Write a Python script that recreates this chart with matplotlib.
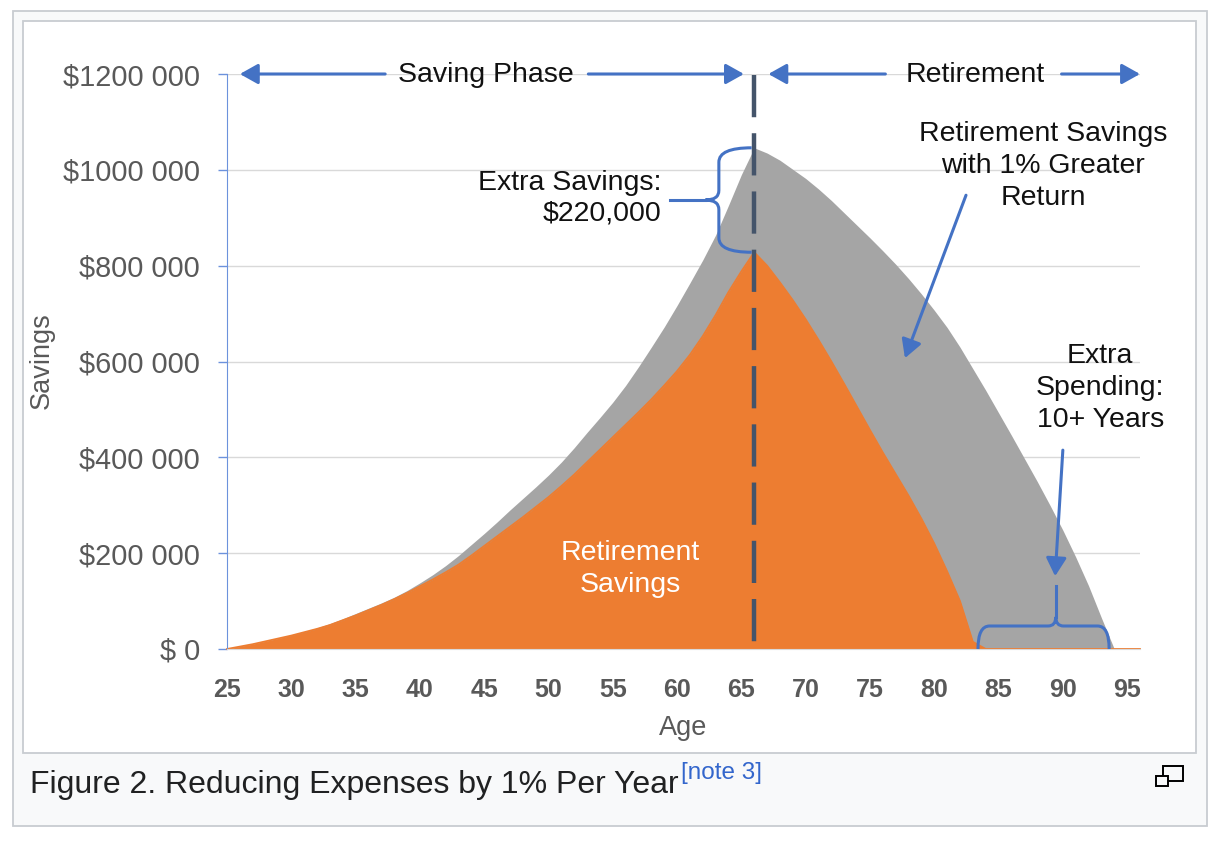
import matplotlib
matplotlib.use('Agg')
import matplotlib.pyplot as plt
from matplotlib.patches import Rectangle, PathPatch
from matplotlib.path import Path
from matplotlib.ticker import FuncFormatter

plt.rcParams['font.family'] = ['Liberation Sans', 'DejaVu Sans']

# data, thousands of dollars per age
ages = list(range(25, 97))
savings_k = [0, 5, 10, 16, 22, 28, 35, 42, 50, 60,
             70, 81, 92, 104, 117, 131, 145, 160, 176, 195,
             215, 235, 255, 275, 296, 317, 340, 364, 390, 416,
             442, 468, 494, 521, 550, 580, 614, 653, 697, 745,
             788, 828, 800, 765, 728, 688, 645, 600, 553, 505,
             457, 410, 365, 320, 272, 220, 162, 100, 15, 0,
             0, 0, 0, 0, 0, 0, 0, 0, 0, 0, 0, 0]
greater_return_k = [0, 5, 10, 16, 22, 29, 36, 44, 53, 63,
                    74, 85, 96, 108, 122, 138, 155, 174, 195, 218,
                    241, 265, 290, 314, 338, 363, 390, 420, 452, 483,
                    515, 550, 589, 630, 672, 717, 764, 812, 864, 926,
                    990, 1046, 1035, 1020, 1001, 982, 960, 936, 910, 884,
                    858, 831, 803, 773, 741, 707, 671, 630, 585, 540,
                    493, 446, 398, 350, 300, 248, 192, 132, 65, 0,
                    0, 0]
retire_age = 66
age_ticks = list(range(25, 96, 5))
savings_ticks = [0, 200000, 400000, 600000, 800000, 1000000, 1200000]

savings = [v * 1000 for v in savings_k]
greater = [v * 1000 for v in greater_return_k]

ORANGE = '#ed7d31'
GREY = '#a5a5a5'
BLUE = '#4472c4'
TXT = '#111111'
AXTXT = '#595959'

W, H = 1218, 841


def fx(px):
    return px / W


def fy(py):
    return 1 - py / H


fig = plt.figure(figsize=(W / 100, H / 100), dpi=100)

# wiki thumbnail frame
fig.add_artist(Rectangle((fx(12.5), fy(825.5)), 1194 / W, 815 / H, fc='#f8f9fa',
                         ec='#c8ccd1', lw=1.3, zorder=-3))
fig.add_artist(Rectangle((fx(22.5), fy(752.5)), 1173 / W, 732 / H, fc='white',
                         ec='#c8ccd1', lw=1.3, zorder=-2))

ax = fig.add_axes([fx(227), fy(649), (1140 - 227) / W, (649 - 74) / H])
ax.patch.set_alpha(0)
ax.set_xlim(25, 96)
ax.set_ylim(0, 1200000)

# areas
ax.fill_between(ages, greater, color=GREY, lw=0, zorder=1)
ax.fill_between(ages, savings, color=ORANGE, lw=0, zorder=2)
ax.plot(ages, savings, color=ORANGE, lw=1.3, zorder=2.5, clip_on=False)

# retirement age marker
ax.plot([retire_age, retire_age], [1198000, 0], color='#44546a', lw=3.2,
        dashes=(9.5, 3.6), zorder=4)

# axes styling
ax.set_axisbelow(True)
ax.yaxis.grid(True, color='#d9d9d9', lw=1)
ax.set_yticks(savings_ticks)
ax.yaxis.set_major_formatter(FuncFormatter(lambda v, _: '$ 0' if v == 0 else f'${int(v / 1000)} 000'))
ax.set_xticks(age_ticks)
ax.tick_params(axis='y', length=6.5, width=1, color='#6c92dc', pad=13,
               labelsize=20.8, labelcolor=AXTXT)
ax.tick_params(axis='x', length=0, pad=21, labelsize=18, labelcolor=AXTXT)
for lbl in ax.get_xticklabels():
    lbl.set_fontweight('bold')
for s in ['top', 'right']:
    ax.spines[s].set_visible(False)
ax.spines['left'].set_color('#6c92dc')
ax.spines['bottom'].set_color('#d9d9d9')

fig.text(fx(683), fy(728), 'Age', ha='center', va='center', fontsize=19.5, color=AXTXT)
fig.text(fx(42), fy(361), 'Savings', ha='center', va='center', rotation=90,
         fontsize=19.5, color=AXTXT)


def arrow(x0, x1, y):
    ax.annotate('', xy=(x1, y), xytext=(x0, y), annotation_clip=False,
                arrowprops=dict(arrowstyle='-|>,head_length=0.5,head_width=0.28',
                                color=BLUE, lw=2.2, mutation_scale=22,
                                shrinkA=0, shrinkB=0), zorder=5)


top = 1200000
# phase arrows along the top
arrow(37.3, 26.0, top)
arrow(53.1, 65.2, top)
ax.text(45.1, 1197000, 'Saving Phase', ha='center', va='center', fontsize=20.5, color=TXT)
arrow(76.2, 67.1, top)
arrow(89.9, 96.0, top)
ax.text(83.2, 1197000, 'Retirement', ha='center', va='center', fontsize=20.5, color=TXT)

# brace at retirement: gap between the two peaks
i_ret = ages.index(retire_age)
y_top, y_bot = greater[i_ret], savings[i_ret]
y_mid = (y_top + y_bot) / 2
x_end, x_sp, x_tip = 65.8, 63.25, 62.2
r1, r2 = 30000, 20000
verts = [(x_end, y_top), (x_sp, y_top), (x_sp, y_top - r1),
         (x_sp, y_mid + r2), (x_sp, y_mid), (x_tip, y_mid),
         (x_sp, y_mid), (x_sp, y_mid - r2),
         (x_sp, y_bot + r1), (x_sp, y_bot), (x_end, y_bot)]
codes = [Path.MOVETO, Path.CURVE3, Path.CURVE3, Path.LINETO, Path.CURVE3, Path.CURVE3,
         Path.CURVE3, Path.CURVE3, Path.LINETO, Path.CURVE3, Path.CURVE3]
ax.add_patch(PathPatch(Path(verts, codes), fc='none', ec=BLUE, lw=2.2, zorder=5,
                       clip_on=False))
ax.plot([59.45, x_tip], [y_mid, y_mid], color=BLUE, lw=2.2, zorder=5)
ax.text(58.8, 940000, 'Extra Savings:\n$220,000', ha='right', va='center',
        fontsize=20.5, color=TXT, linespacing=1.22)

# brace under the extra spending years
x_l, x_r, x_m = 83.4, 93.6, 89.45
y_bar, y_tp = 48000, 67000
c1, c2 = 0.9, 0.6
verts = [(x_l, 0), (x_l, y_bar), (x_l + c1, y_bar),
         (x_m - c2, y_bar), (x_m, y_bar), (x_m, y_tp),
         (x_m, y_bar), (x_m + c2, y_bar),
         (x_r - c1, y_bar), (x_r, y_bar), (x_r, 0)]
codes = [Path.MOVETO, Path.CURVE3, Path.CURVE3, Path.LINETO, Path.CURVE3, Path.CURVE3,
         Path.CURVE3, Path.CURVE3, Path.LINETO, Path.CURVE3, Path.CURVE3]
ax.add_patch(PathPatch(Path(verts, codes), fc='none', ec=BLUE, lw=2.2, zorder=5,
                       clip_on=False))
ax.plot([x_m, x_m], [y_tp, 131000], color=BLUE, lw=2.2, zorder=5)

# pointer arrows
for (x0, y0), (x1, y1) in [((82.47, 947000), (77.72, 607000)),
                           ((90.0, 415000), (89.4, 152000))]:
    ax.annotate('', xy=(x1, y1), xytext=(x0, y0),
                arrowprops=dict(arrowstyle='-|>,head_length=0.5,head_width=0.28',
                                color=BLUE, lw=2.2, mutation_scale=22,
                                shrinkA=0, shrinkB=0), zorder=5)

ax.text(88.45, 1007000, 'Retirement Savings\nwith 1% Greater\nReturn', ha='center',
        va='center', fontsize=20.5, color=TXT, linespacing=1.3)
ax.text(92.9, 544000, 'Extra\nSpending:\n10+ Years', ha='center', va='center',
        fontsize=20.5, color=TXT, linespacing=1.3)
ax.text(56.34, 168000, 'Retirement\nSavings', ha='center', va='center',
        fontsize=20.5, color='white', linespacing=1.3)

# caption
cap = fig.text(fx(30), fy(785), 'Figure 2. Reducing Expenses by 1% Per Year',
               ha='left', va='center', fontsize=23, color='#202122')
renderer = fig.canvas.get_renderer()
bb = cap.get_window_extent(renderer)
fig.text((bb.x1 + 2) / W, fy(773), '[note 3]', ha='left', va='center',
         fontsize=17.5, color='#3366cc')

# enlarge icon
fig.add_artist(Rectangle((fx(1163), fy(781)), 20 / W, 15 / H, fc='none', ec='black', lw=1.4))
fig.add_artist(Rectangle((fx(1156), fy(786)), 12 / W, 10 / H, fc='#f8f9fa', ec='black', lw=1.4))

fig.savefig('out.png', dpi=100)
